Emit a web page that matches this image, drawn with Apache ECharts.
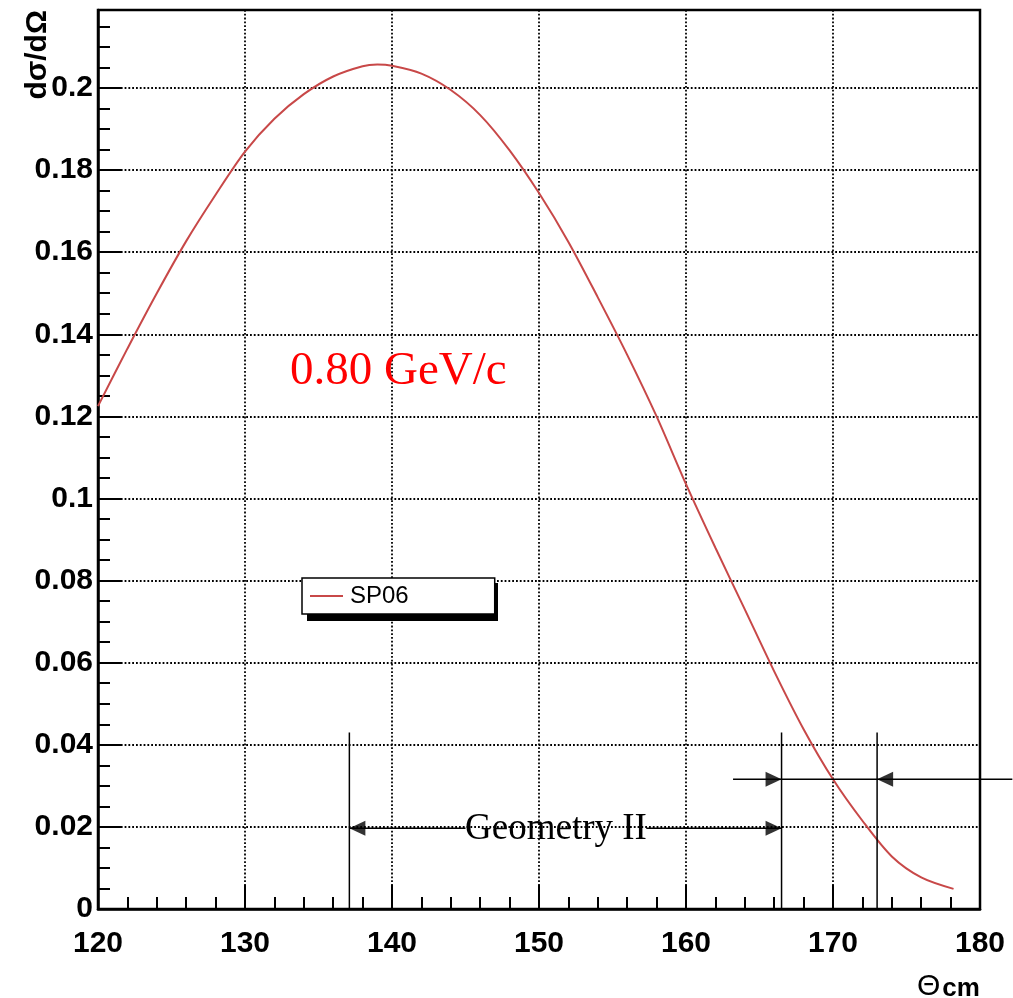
<!DOCTYPE html>
<html>
<head>
<meta charset="utf-8">
<script src="https://cdn.jsdelivr.net/npm/echarts@6/dist/echarts.min.js"></script>
<style>html,body{margin:0;padding:0;background:#fff;}#c{width:1013px;height:998px;}</style>
</head>
<body>
<div id="c"></div>
<script>
// Curve SP06 (theta_cm in degrees, dσ/dΩ)
const theta = [120,122,124,126,128,130,132,134,136,138,139,140,142,144,146,148,150,152,154,156,158,160,162,164,166,168,170,172,174,176,178.2];
const sigma = [0.1225,0.1365,0.150,0.1627,0.174,0.1845,0.1925,0.1985,0.2028,0.2053,0.2057,0.2054,0.2035,0.1995,0.1934,0.1848,0.1744,0.1625,0.149,0.135,0.120,0.1035,0.088,0.073,0.0579,0.0438,0.0316,0.0215,0.0128,0.0077,0.0049];

// Axis ticks
const xTicks = {min:120, max:180, interval:10};
const yTicks = {min:0, max:0.219, interval:0.02};

// Annotations (data coordinates)
const boundX = [137.1, 166.5, 173.0];   // vertical lines
const boundTop = 0.043;
const geomY = 0.0197;                   // "Geometry II" arrow level
const geomTextGap = [145.0, 157.3];     // where the text interrupts the arrow
const upperY = 0.0316;                  // second arrow level
const upperSpan = [163.2, 182.2];

const chart = echarts.init(document.getElementById('c'), null, {renderer:'canvas'});

const black = '#000';
const lineSeries = [];
boundX.forEach(x => lineSeries.push([[x,0],[x,boundTop]]));
lineSeries.push([[geomTextGap[0],geomY],[boundX[0],geomY]]);
lineSeries.push([[geomTextGap[1],geomY],[boundX[1],geomY]]);
lineSeries.push([[upperSpan[0],upperY],[xTicks.max,upperY]]);

const rightHead = 'path://M0,0 L16,7.5 L0,15 Z';
const leftHead = 'path://M16,0 L0,7.5 L16,15 Z';

const series = [{
  name:'SP06', type:'line', symbol:'none', smooth:0.3, z:5,
  data: theta.map((t,i)=>[t, sigma[i]]),
  lineStyle:{color:'#c84848', width:2}, itemStyle:{color:'#c84848'}
}];
lineSeries.forEach((d,i)=>series.push({
  name:'ann'+i, type:'line', symbol:'none', clip:false, silent:true, z:6,
  data:d, lineStyle:{color:black, width:1.5}
}));
series.push({
  name:'headsR', type:'scatter', silent:true, z:7, symbol:rightHead, symbolSize:[16,15], symbolOffset:[-8,0],
  itemStyle:{color:black},
  data:[[boundX[1],geomY],[boundX[1],upperY]]
});
series.push({
  name:'headsL', type:'scatter', silent:true, z:7, symbol:leftHead, symbolSize:[16,15], symbolOffset:[8,0],
  itemStyle:{color:black},
  data:[[boundX[0],geomY],[boundX[2],upperY]]
});

const lab = {fontFamily:'Liberation Sans', fontWeight:'bold', fontSize:30, color:black};
const dotted = {color:black, width:1.8, type:[1.8,2]};

const graphics = [
  {id:'legshadow', type:'rect', z:1, shape:{x:307, y:583, width:191, height:38}, style:{fill:black}},
  {id:'ytitle', type:'text', x:23, y:10, rotation:Math.PI/2, z:10,
    style:{text:'dσ/dΩ', font:'bold 30px "Liberation Sans"', fill:black, textAlign:'right', textVerticalAlign:'top'}},
  {id:'mom', type:'text', x:290, y:372, z:10,
    style:{text:'0.80 GeV/c', font:'47px "Liberation Serif"', fill:'#ff0000', textAlign:'left', textVerticalAlign:'middle'}},
  {id:'geo', type:'text', x:556, y:829, z:10,
    style:{text:'Geometry II', font:'37px "Liberation Serif"', fill:black, textAlign:'center', textVerticalAlign:'middle'}},
  {id:'xtitle', type:'text', x:917, y:962, z:10,
    style:{text:'{a|Θ}{b|cm}', fill:black,
      rich:{a:{font:'30px "Liberation Sans"', verticalAlign:'bottom'}, b:{font:'bold 26px "Liberation Sans"', padding:[14,0,0,2], verticalAlign:'bottom'}}}}
];

chart.setOption({
  animation:false,
  backgroundColor:'#fff',
  grid:{left:98, right:33, top:10, bottom:89, show:true, borderColor:black, borderWidth:2.5, backgroundColor:'transparent'},
  xAxis:{type:'value', min:xTicks.min, max:xTicks.max, interval:xTicks.interval,
    axisLine:{show:true, lineStyle:{color:black, width:2.5}},
    axisTick:{show:true, inside:true, length:24, lineStyle:{color:black, width:2}},
    minorTick:{show:true, splitNumber:5, length:12, lineStyle:{color:black, width:2}},
    splitLine:{show:true, lineStyle:dotted},
    axisLabel:Object.assign({margin:20}, lab)
  },
  yAxis:{type:'value', min:yTicks.min, max:yTicks.max, interval:yTicks.interval,
    axisLine:{show:true, lineStyle:{color:black, width:2.5}},
    axisTick:{show:true, inside:true, length:24, lineStyle:{color:black, width:2}},
    minorTick:{show:true, splitNumber:4, length:12, lineStyle:{color:black, width:2}},
    splitLine:{show:true, lineStyle:dotted},
    axisLabel:Object.assign({margin:5, showMaxLabel:false, formatter:v=>String(+v.toFixed(3))}, lab)
  },
  legend:{data:[{name:'SP06', icon:'rect'}], left:302, top:578, orient:'horizontal',
    padding:[6,86,6,8], itemWidth:33, itemHeight:2, itemGap:10,
    backgroundColor:'#fff', borderColor:black, borderWidth:1.5,
    textStyle:{fontFamily:'Liberation Sans', fontSize:24, color:black, padding:[0,0,0,2]}
  },
  graphic:graphics,
  series:series
});

// extend the upper arrow line beyond the frame, through the axis scale
const p0 = chart.convertToPixel({gridIndex:0}, [xTicks.max, upperY]);
const p1 = chart.convertToPixel({gridIndex:0}, [upperSpan[1], upperY]);
graphics.push({id:'ext', type:'line', z:10, shape:{x1:p0[0], y1:p0[1], x2:p1[0], y2:p1[1]}, style:{stroke:black, lineWidth:1.5}});
chart.setOption({graphic:graphics});
</script>
</body>
</html>
